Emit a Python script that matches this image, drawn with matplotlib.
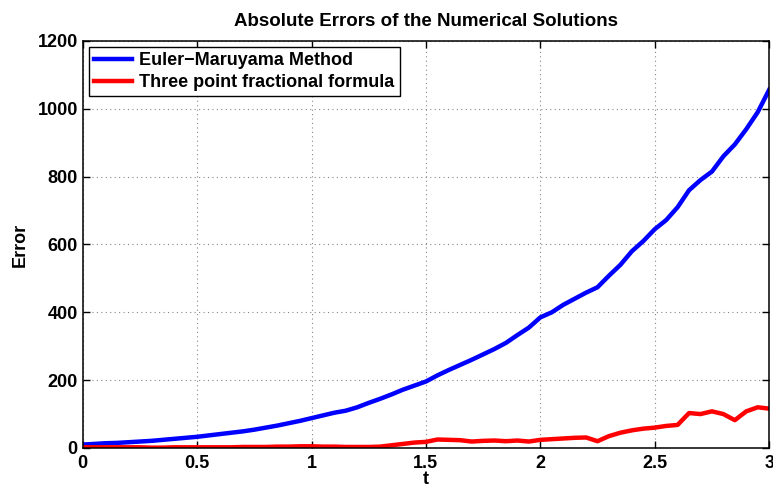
import matplotlib
matplotlib.use('Agg')
import matplotlib.pyplot as plt
import numpy as np

plt.rcParams['font.family'] = ['Liberation Sans', 'DejaVu Sans']
plt.rcParams['font.weight'] = 'bold'

t = np.linspace(0, 3, 61)

euler = [10, 12, 14, 15, 17, 19, 21, 24, 27, 30,
         33, 37, 41, 45, 49, 54, 60, 66, 73, 80,
         88, 96, 104, 110, 120, 133, 145, 158, 172, 184,
         196, 214, 230, 245, 260, 276, 292, 310, 333, 355,
         385, 400, 422, 440, 458, 474, 508, 540, 580, 610,
         645, 672, 710, 760, 790, 815, 860, 895, 940, 990,
         1056]

three_point = [2, 2, 2, 2, 2, 2, 1, 1, 2, 2,
               2, 2, 2, 2, 3, 3, 3, 4, 4, 5,
               5, 4, 4, 3, 3, 3, 4, 8, 12, 16,
               18, 25, 24, 23, 19, 21, 22, 20, 22, 19,
               24, 26, 28, 30, 31, 20, 35, 45, 52, 57,
               60, 65, 68, 103, 100, 108, 100, 82, 108, 120,
               116]

fig = plt.figure(figsize=(7.73, 4.88), dpi=100)
ax = fig.add_axes([0.107, 0.082, 0.888, 0.834])

ax.plot(t, euler, color='#0000ff', lw=3.2, label='Euler\u2212Maruyama Method')
ax.plot(t, three_point, color='#ff0000', lw=3.2, label='Three point fractional formula')

ax.set_xlim(0, 3)
ax.set_ylim(0, 1200)
ax.set_xticks([0, 0.5, 1, 1.5, 2, 2.5, 3])
ax.set_xticklabels(['0', '0.5', '1', '1.5', '2', '2.5', '3'])
ax.set_yticks(range(0, 1201, 200))
ax.tick_params(direction='in', top=True, right=True, labelsize=13, length=5, width=1)
ax.tick_params(axis='x', pad=5)
ax.grid(True, linestyle=(0, (1, 3)), color='#888888', lw=0.8)
for s in ax.spines.values():
    s.set_linewidth(1.1)

ax.set_title('Absolute Errors of the Numerical Solutions', fontsize=13.5, fontweight='bold', pad=11)
ax.set_xlabel('t', fontsize=13, fontweight='bold', labelpad=-1)
ax.set_ylabel('Error', fontsize=13, fontweight='bold', labelpad=6)

leg = ax.legend(loc='upper left', fontsize=13, fancybox=False, framealpha=1,
                edgecolor='black', borderaxespad=0.33, handlelength=2.1,
                handletextpad=0.4, borderpad=0.3, labelspacing=0.25)
leg.get_frame().set_linewidth(1.0)

fig.savefig('out.png', dpi=100)
